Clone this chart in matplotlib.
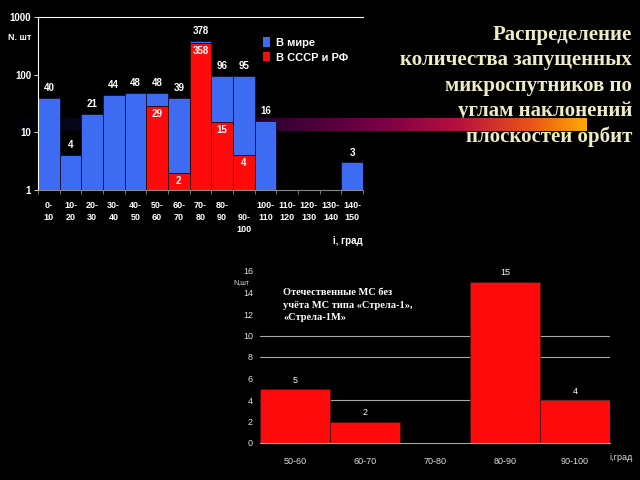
import numpy as np
import matplotlib
matplotlib.use("Agg")
import matplotlib.pyplot as plt
from matplotlib.colors import LinearSegmentedColormap
from matplotlib.patches import Patch

# верхний график: распределение по наклонениям (лог. шкала)
bins = ["0-\n10", "10-\n20", "20-\n30", "30-\n40", "40-\n50", "50-\n60", "60-\n70",
        "70-\n80", "80-\n90", "\n90-\n100", "100-\n110", "110-\n120", "120-\n130",
        "130-\n140", "140-\n150"]
world = [40, 4, 21, 44, 48, 48, 39, 378, 96, 95, 16, 0, 0, 0, 3]
ussr = [0, 0, 0, 0, 0, 29, 2, 358, 15, 4, 0, 0, 0, 0, 0]

# нижний график: отечественные МС без «Стрела»
bins_dom = ["50-60", "60-70", "70-80", "80-90", "90-100"]
domestic = [5, 2, 0, 15, 4]

title = "Распределение\nколичества запущенных\nмикроспутников по\nуглам наклонений\nплоскостей орбит"
note = "Отечественные МС без\nучёта МС типа «Стрела-1»,\n«Стрела-1М»"

BLUE = "#3D6BF2"
RED = "#FF0A0A"
SANS = "Liberation Sans"
SERIF = "Liberation Serif"

W, H = 640, 480
fig = plt.figure(figsize=(6.4, 4.8), dpi=100, facecolor="black")


def fx(px):
    return px / W


def fy(py):
    return 1 - py / H


# title (behind the gradient stripe)
fig.text(fx(632), fy(25), title, ha="right", va="top", fontsize=15,
         family=SERIF, fontweight="bold", color="#EFECC4", linespacing=1.35,
         zorder=0)

# gradient stripe
grad_ax = fig.add_axes([0, fy(131), fx(587), 13 / H], zorder=1)
cmap = LinearSegmentedColormap.from_list(
    "stripe",
    [(0.0, "#000000"), (0.12, "#06061a"), (0.45, "#2a0030"), (0.65, "#7a0045"),
     (0.78, "#b5103f"), (0.9, "#e8501a"), (1.0, "#ffa800")])
grad_ax.imshow(np.linspace(0, 1, 512)[None, :], aspect="auto", cmap=cmap,
               extent=[0, 1, 0, 1])
grad_ax.set_axis_off()

# ---- top chart ----
ax = fig.add_axes([fx(38), fy(190), fx(363) - fx(38), fy(17) - fy(190)], zorder=2)
ax.set_facecolor("none")
x = np.arange(len(bins))
wv = np.array(world, dtype=float)
uv = np.array(ussr, dtype=float)
mask_w = wv > 0
ax.bar(x[mask_w], wv[mask_w] - 1, width=1.0, bottom=1, color=BLUE,
       edgecolor="#101030", linewidth=0.6)
mask_u = uv > 0
ax.bar(x[mask_u], uv[mask_u] - 1, width=1.0, bottom=1, color=RED,
       edgecolor="#300000", linewidth=0.6)
ax.set_yscale("log")
ax.set_ylim(1, 1000)
ax.set_xlim(-0.5, len(bins) - 0.5)

for xi, v in zip(x, world):
    if v > 0:
        ax.text(xi, v * 1.22, str(v), ha="center", va="bottom", color="white",
                fontsize=7, family=SANS, fontweight="bold")
for xi, v in zip(x, ussr):
    if v > 0:
        ax.text(xi, v * 0.88, str(v), ha="center", va="top", color="white",
                fontsize=7, family=SANS, fontweight="bold")

ax.set_yticks([1, 10, 100, 1000])
ax.set_yticklabels(["1", "10", "100", "1000"])
ax.yaxis.set_minor_locator(matplotlib.ticker.NullLocator())
ax.tick_params(axis="y", colors="white", labelsize=7, length=3, width=0.6, pad=2)
for lbl in ax.get_yticklabels():
    lbl.set_fontweight("bold")
    lbl.set_family(SANS)
ax.set_xticks(x)
ax.set_xticklabels(bins, va="top", linespacing=1.45)
ax.set_xticks(np.arange(len(bins) + 1) - 0.5, minor=True)
ax.tick_params(axis="x", which="major", length=0, colors="white", labelsize=6.5, pad=8)
ax.tick_params(axis="x", which="minor", length=3, color="#888888", width=0.6)
for lbl in ax.get_xticklabels():
    lbl.set_fontweight("bold")
    lbl.set_family(SANS)

ax.spines["right"].set_visible(False)
ax.spines["left"].set_color("white")
ax.spines["top"].set_color("white")
ax.spines["bottom"].set_color("#888888")
for s in ax.spines.values():
    s.set_linewidth(0.8)

handles = [Patch(facecolor=BLUE, label="В мире"), Patch(facecolor=RED, label="В СССР и РФ")]
leg = ax.legend(handles=handles, loc="upper left", bbox_to_anchor=(0.66, 0.94),
                frameon=False, handlelength=0.7, handleheight=0.9,
                handletextpad=0.5, labelspacing=0.4,
                prop={"family": SANS, "weight": "bold", "size": 8})
for t in leg.get_texts():
    t.set_color("white")

fig.text(fx(8), fy(38), "N. шт", color="white", fontsize=6.5, family=SANS,
         fontweight="bold", va="center")
fig.text(fx(363), fy(241), "i, град", color="white", fontsize=7, family=SANS,
         fontweight="bold", va="center", ha="right")

# ---- bottom chart ----
ax2 = fig.add_axes([fx(260), fy(443), fx(610) - fx(260), fy(271) - fy(443)], zorder=2)
ax2.set_facecolor("none")
xd = np.arange(len(bins_dom))
for level in (4, 8, 10):
    ax2.axhline(level, color="#A8A8A8", linewidth=0.8, zorder=0)
ax2.bar(xd, domestic, width=1.0, color=RED, edgecolor="#401010", linewidth=0.5, zorder=2)
for xi, v in zip(xd, domestic):
    if v > 0:
        ax2.text(xi, v + 0.4, str(v), ha="center", va="bottom", color="white",
                 fontsize=6.5, family=SANS)
ax2.set_ylim(0, 16)
ax2.set_xlim(-0.5, len(bins_dom) - 0.5)
ax2.set_yticks(np.arange(0, 17, 2))
ax2.set_xticks(xd)
ax2.set_xticklabels(bins_dom)
ax2.tick_params(colors="#E0E0E0", labelsize=6.5, length=0, pad=5)
ax2.tick_params(axis="x", pad=10)
for lbl in ax2.get_xticklabels() + ax2.get_yticklabels():
    lbl.set_family(SANS)
for side in ("left", "right", "top"):
    ax2.spines[side].set_visible(False)
ax2.spines["bottom"].set_color("#A8A8A8")
ax2.spines["bottom"].set_linewidth(0.8)

ax2.text(0.067, 0.9, note, transform=ax2.transAxes, ha="left", va="top",
         color="white", fontsize=7.5, family=SERIF, fontweight="bold",
         linespacing=1.5)
fig.text(fx(250), fy(283), "N,шт", color="#E0E0E0", fontsize=5, family=SANS,
         va="center", ha="right")
fig.text(fx(621), fy(458), "i,град", color="#E0E0E0", fontsize=6.5, family=SANS,
         va="center", ha="center")

fig.savefig("out.png", dpi=100, facecolor="black")
